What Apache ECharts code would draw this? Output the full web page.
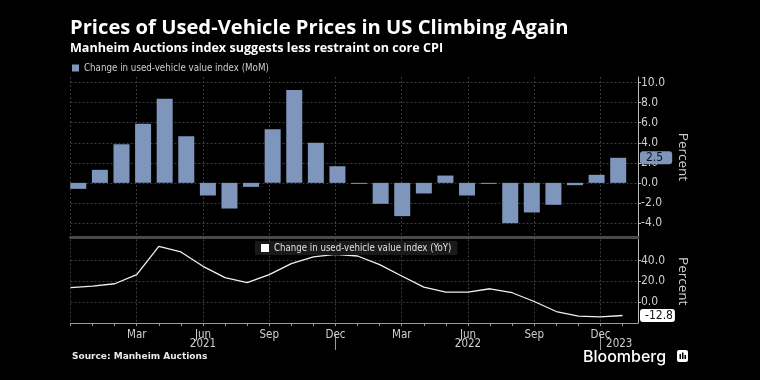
<!DOCTYPE html>
<html><head><meta charset="utf-8">
<script src="https://cdn.jsdelivr.net/npm/echarts@6/dist/echarts.min.js"></script>
<style>html,body{margin:0;padding:0;background:#000;}#c{width:760px;height:380px;}</style>
</head><body><div id="c"></div>
<script>
// ---- data ----
const months = ['2020-12','2021-01','2021-02','2021-03','2021-04','2021-05','2021-06','2021-07','2021-08','2021-09','2021-10','2021-11','2021-12',
  '2022-01','2022-02','2022-03','2022-04','2022-05','2022-06','2022-07','2022-08','2022-09','2022-10','2022-11','2022-12','2023-01'];
const momValues = [-0.6,1.3,3.85,5.9,8.4,4.65,-1.26,-2.56,-0.4,5.35,9.26,4.0,1.66,-0.1,-2.09,-3.32,-1.06,0.73,-1.26,-0.1,-4.02,-2.95,-2.19,-0.23,0.8,2.5];
const yoyValues = [13.8,15.4,17.6,26.3,53.5,48.1,34.3,23.4,18.6,26.3,36.9,43.3,45.8,44.2,35.9,25.0,14.4,9.6,9.6,12.8,9.0,0.6,-9.0,-13.5,-14.1,-12.8];
const momTicks = [-4,-2,0,2,4,6,8,10];
const yoyTicks = [0,20,40];
const monthNames = ['Jan','Feb','Mar','Apr','May','Jun','Jul','Aug','Sep','Oct','Nov','Dec'];
const momName = 'Change in used-vehicle value index (MoM)';
const yoyName = 'Change in used-vehicle value index (YoY)';

// ---- layout ----
const X_MAX = 25.7;
const FONT = '"Liberation Sans Narrow","DejaVu Sans Condensed","Liberation Sans",sans-serif';
const BAR = '#7e96bb';
const GRIDC = '#3c3c3c';
const LBL = '#cfcfcf';

const monthIdx = months.map((m,i)=>i);
const yoyData = yoyValues.map((v,i)=>[i,v]);
const decIdx = months.map((m,i)=>(m.endsWith('-12') && i>0) ? i : null).filter(v=>v!==null);
const bounds = [0, ...decIdx, X_MAX];
const yearPos = [], yearText = [];
for (let k=0;k<bounds.length-1;k++){ yearPos.push((bounds[k]+bounds[k+1])/2); yearText.push(String(2021+k)); }

const chart = echarts.init(document.getElementById('c'));
const dotted = {show:true, lineStyle:{color:GRIDC, type:[2,2], width:1}};

chart.setOption({
  backgroundColor:'#000',
  animation:false,
  textStyle:{fontFamily:FONT},
  title:[
    {text:'Prices of Used-Vehicle Prices in US Climbing Again', left:70, top:18, padding:0, textStyle:{color:'#fff', fontSize:20.2, fontWeight:'bold', fontFamily:'"Open Sans","DejaVu Sans",sans-serif'}},
    {text:'Manheim Auctions index suggests less restraint on core CPI', left:70, top:42, padding:0, textStyle:{color:'#fff', fontSize:12.6, fontWeight:'bold', fontFamily:'"Open Sans","DejaVu Sans",sans-serif'}},
    {text:'Source: Manheim Auctions', left:72, top:352, padding:0, textStyle:{color:'#e8e8e8', fontSize:9, fontWeight:'bold', fontFamily:'"DejaVu Sans",sans-serif'}},
    {text:'Bloomberg', left:583, top:349, padding:0, textStyle:{color:'#fff', fontSize:16, fontWeight:500, fontFamily:'Inter,"Open Sans",sans-serif'}}
  ],
  legend:[
    {data:[momName], left:72, top:63, padding:0, itemWidth:7, itemHeight:7, itemGap:4, icon:'rect', textStyle:{color:LBL, fontSize:9.7, fontFamily:FONT}},
    {data:[yoyName], left:255, top:241, padding:[2,6,2,6], backgroundColor:'#1a1a1a', itemWidth:8, itemHeight:8, itemGap:4, icon:'rect', textStyle:{color:'#e0e0e0', fontSize:9.6, fontFamily:FONT}}
  ],
  grid:[
    {left:70.5, right:122, top:77, height:160},   // top panel frame
    {left:67.5, width:561.5, top:77, height:160}, // bars
    {left:70.5, right:122, top:239.5, height:83.5} // bottom panel
  ],
  xAxis:[
    {gridIndex:0, type:'value', position:'bottom', min:0, max:X_MAX, interval:3, axisLabel:{show:false}, axisTick:{show:false},
     axisLine:{show:true, onZero:false, lineStyle:{color:'#4a4a4a', width:3}}, splitLine:dotted},
    {gridIndex:1, type:'category', data:months, show:false},
    {gridIndex:2, type:'value', position:'bottom', min:0, max:X_MAX, interval:3, axisTick:{show:false},
     axisLine:{show:true, onZero:false, lineStyle:{color:'#9a9a9a', width:1}}, splitLine:dotted,
     axisLabel:{color:LBL, fontSize:11.5, margin:6, fontFamily:FONT, showMinLabel:false,
       formatter:v=>{ if (Math.abs(v-Math.round(v))>1e-6 || v===0) return ''; const m=months[v]; return m?monthNames[+m.slice(5)-1]:''; }}},
    {gridIndex:2, type:'value', position:'bottom', min:0, max:X_MAX, axisLine:{show:false, onZero:false}, splitLine:{show:false}, axisLabel:{show:false},
     axisTick:{show:true, customValues:monthIdx, length:3, lineStyle:{color:'#9a9a9a'}}},
    {gridIndex:2, type:'value', position:'bottom', min:0, max:X_MAX, offset:12, axisLine:{show:false, onZero:false}, splitLine:{show:false},
     axisTick:{show:true, customValues:decIdx, length:15, lineStyle:{color:'#9a9a9a'}},
     axisLabel:{show:true, customValues:yearPos, color:LBL, fontSize:11.5, margin:3, fontFamily:FONT,
       formatter:v=>{ const k=yearPos.findIndex(p=>Math.abs(p-v)<1e-6); return k>=0?yearText[k]:''; }}}
  ],
  yAxis:[
    {gridIndex:0, type:'value', position:'right', min:-5.4, max:10.56,
     axisLine:{show:true, onZero:false, lineStyle:{color:'#bdbdbd'}},
     axisTick:{show:true, length:3, customValues:momTicks, lineStyle:{color:'#bdbdbd'}},
     axisLabel:{customValues:momTicks, color:LBL, fontSize:12, margin:3, fontFamily:FONT, formatter:v=>v.toFixed(1)},
     splitLine:dotted,
     name:'Percent', nameLocation:'middle', nameRotate:-90, nameGap:38, nameTextStyle:{color:LBL, fontSize:13.5, fontFamily:'"Open Sans",sans-serif'},
     axisPointer:{show:true, status:'show', value:momValues[momValues.length-1], triggerTooltip:false, lineStyle:{opacity:0},
       label:{show:true, backgroundColor:BAR, color:'#111', fontSize:12, padding:[1,9,0,6], margin:2, fontFamily:FONT, formatter:p=>(+p.value).toFixed(1)}}},
    {gridIndex:1, type:'value', min:-5.4, max:10.56, show:false},
    {gridIndex:2, type:'value', position:'right', min:-20, max:60, interval:20,
     axisLine:{show:true, onZero:false, lineStyle:{color:'#bdbdbd'}},
     axisTick:{show:true, length:3, customValues:yoyTicks, lineStyle:{color:'#bdbdbd'}},
     axisLabel:{customValues:yoyTicks, color:LBL, fontSize:12, margin:3, fontFamily:FONT, formatter:v=>v.toFixed(1)},
     splitLine:dotted,
     name:'Percent', nameLocation:'middle', nameRotate:-90, nameGap:38, nameTextStyle:{color:LBL, fontSize:13.5, fontFamily:'"Open Sans",sans-serif'},
     axisPointer:{show:true, status:'show', value:yoyValues[yoyValues.length-1], triggerTooltip:false, lineStyle:{opacity:0},
       label:{show:true, backgroundColor:'#fff', color:'#111', fontSize:12, padding:[1,2,0,5], margin:2, fontFamily:FONT, formatter:p=>(+p.value).toFixed(1)}}}
  ],
  series:[
    {name:momName, type:'bar', xAxisIndex:1, yAxisIndex:1, data:momValues, barWidth:16, itemStyle:{color:BAR}},
    {name:yoyName, type:'line', xAxisIndex:2, yAxisIndex:2, data:yoyData, symbol:'none', lineStyle:{color:'#f0f0f0', width:1.3}, itemStyle:{color:'#fff'}}
  ],
  graphic:[
    {type:'group', left:677, top:350, children:[
      {type:'rect', shape:{x:0,y:0,width:11,height:12,r:2}, style:{fill:'#fff'}},
      {type:'rect', shape:{x:2.5,y:4,width:1.5,height:5}, style:{fill:'#000'}},
      {type:'rect', shape:{x:5,y:2.5,width:1.5,height:6.5}, style:{fill:'#000'}},
      {type:'rect', shape:{x:7.5,y:5,width:1.5,height:4}, style:{fill:'#000'}}
    ]}
  ]
});
</script></body></html>
